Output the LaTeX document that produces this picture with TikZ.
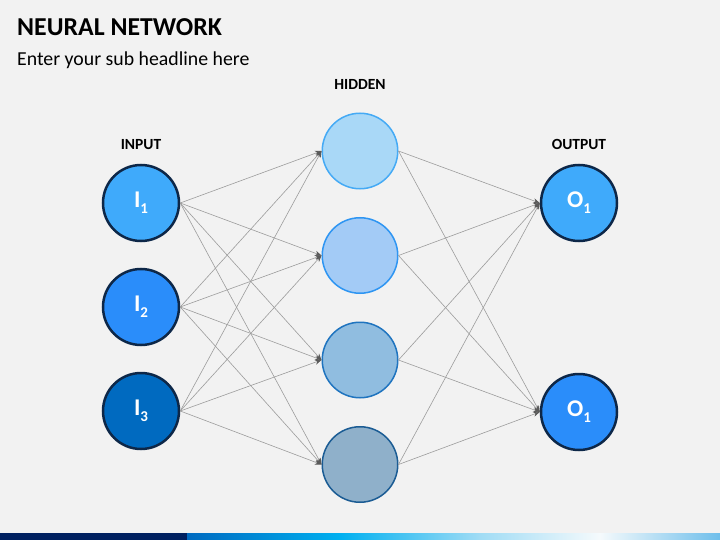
\documentclass[tikz,border=0pt]{standalone}
\usepackage{fontspec}
\setmainfont{Carlito}
\usetikzlibrary{positioning,arrows.meta}

\definecolor{pagebg}{HTML}{F2F2F2}
\definecolor{rimdark}{HTML}{0D2748}
\definecolor{inA}{HTML}{3FAAFB}
\definecolor{inB}{HTML}{2A8DFA}
\definecolor{inC}{HTML}{006AC0}
\definecolor{hidA}{HTML}{A9D8F7}
\definecolor{hidB}{HTML}{A3CBF6}
\definecolor{hidC}{HTML}{90BDE0}
\definecolor{hidD}{HTML}{8FB0CA}
\definecolor{rimA}{HTML}{45AAF5}
\definecolor{rimB}{HTML}{2E95F2}
\definecolor{rimC}{HTML}{1F74BF}
\definecolor{rimD}{HTML}{1B5C94}
\definecolor{linkgray}{HTML}{9C9C9C}
\definecolor{tipgray}{HTML}{5A5A5A}
\definecolor{barnavy}{HTML}{002060}

\newcommand\idx[1]{\raisebox{-6pt}{\fontsize{15}{15}\selectfont #1}}

\tikzset{
  neuron/.style={circle, minimum size=76pt, inner sep=0pt, line width=2.5pt, draw=rimdark,
    text=white, font=\fontsize{24}{24}\selectfont\bfseries},
  hid/.style={circle, minimum size=75.5pt, inner sep=0pt, line width=1.5pt},
  layer/.style={font=\fontsize{15.5}{15.5}\selectfont\bfseries},
  link/.style={draw=linkgray, line width=0.6pt, -{Stealth[length=6.5pt,width=5pt,color=tipgray]}}
}

\begin{document}
\begin{tikzpicture}[x=1pt, y=-1pt]
% page
\fill[pagebg] (0,0) rectangle (720,540);
\useasboundingbox (0,0) rectangle (720,540);

% heading
\node[anchor=base west, inner sep=0pt, font=\fontsize{25.8}{25.8}\selectfont\bfseries] (title) at (17,36) {NEURAL NETWORK};
\node[anchor=base west, inner sep=0pt, font=\fontsize{19.8}{19.8}\selectfont] (subtitle) at (17,65.5) {Enter your sub headline here};

% nodes
\node[neuron, fill=inA] (i1) at (141,203) {I\idx{1}};
\node[neuron, fill=inB, below=25.5pt of i1] (i2) {I\idx{2}};
\node[neuron, fill=inC, below=25.5pt of i2] (i3) {I\idx{3}};

\node[hid, fill=hidA, draw=rimA] (h1) at (360,151) {};
\node[hid, fill=hidB, draw=rimB, below=27.5pt of h1] (h2) {};
\node[hid, fill=hidC, draw=rimC, below=27.5pt of h2] (h3) {};
\node[hid, fill=hidD, draw=rimD, below=27.5pt of h3] (h4) {};

\node[neuron, fill=inA] (o1) at (579,203) {O\idx{1}};
\node[neuron, fill=inB, below=130.5pt of o1] (o2) {O\idx{1}};

% layer labels
\node[layer, above=11pt of i1] (inlabel) {INPUT};
\node[layer, above=19pt of h1] (hidlabel) {HIDDEN};
\node[layer, above=11pt of o1] (outlabel) {OUTPUT};

% edges
\foreach \a in {1,2,3}
  \foreach \b in {1,...,4}
    \draw[link] (i\a.east) -- (h\b.west);
\foreach \b in {1,...,4}
  \foreach \c in {1,2}
    \draw[link] (h\b.east) -- (o\c.west);

% bottom bar
\fill[barnavy] (0,533) rectangle (187,540);
\shade[left color=inC, right color={rgb,255:red,0;green,176;blue,240}] (187,533) rectangle (340,540);
\shade[left color={rgb,255:red,0;green,176;blue,240}, right color={rgb,255:red,160;green,220;blue,245}] (340,533) rectangle (480,540);
\shade[left color={rgb,255:red,160;green,220;blue,245}, right color={rgb,255:red,245;green,250;blue,252}] (480,533) rectangle (600,540);
\shade[left color={rgb,255:red,245;green,250;blue,252}, right color={rgb,255:red,110;green,190;blue,235}] (600,533) rectangle (720,540);
\end{tikzpicture}
\end{document}
